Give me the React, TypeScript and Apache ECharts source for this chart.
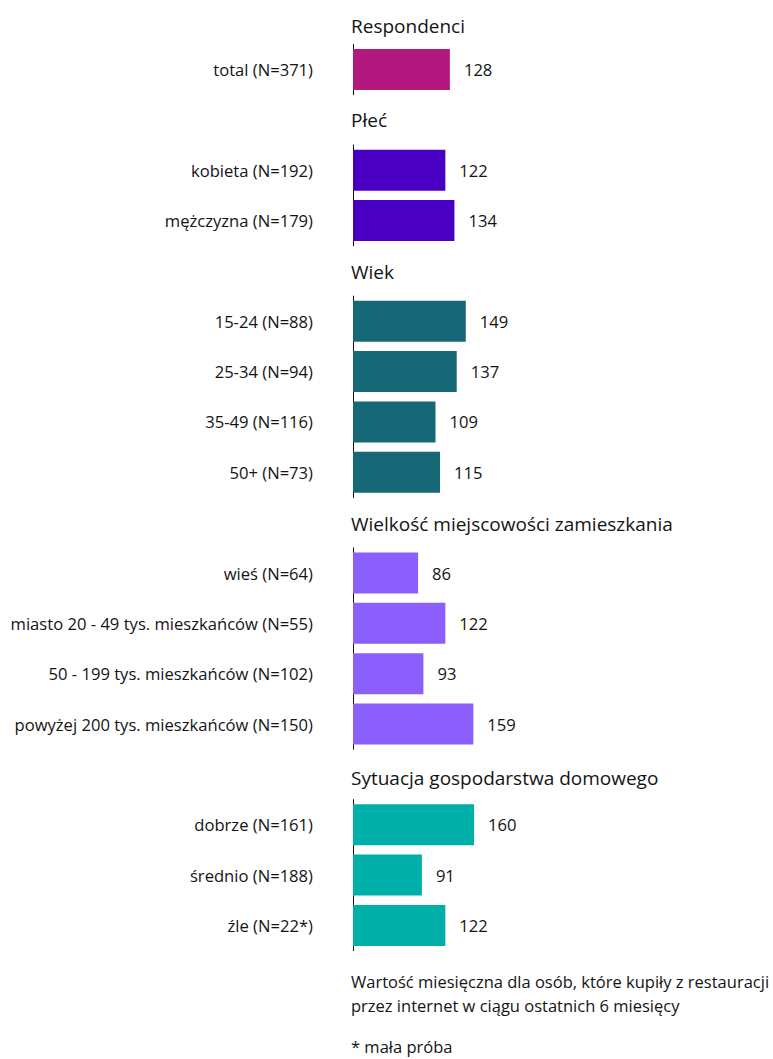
import React, { useEffect, useRef } from "react";
import * as echarts from "echarts";

const sectionTitles = [
  "Respondenci",
  "Płeć",
  "Wiek",
  "Wielkość miejscowości zamieszkania",
  "Sytuacja gospodarstwa domowego",
];

const totalLabels = ["total (N=371)"];
const totalValues = [128];

const genderLabels = ["kobieta (N=192)", "mężczyzna (N=179)"];
const genderValues = [122, 134];

const ageLabels = ["15-24 (N=88)", "25-34 (N=94)", "35-49 (N=116)", "50+ (N=73)"];
const ageValues = [149, 137, 109, 115];

const townLabels = [
  "wieś (N=64)",
  "miasto 20 - 49 tys. mieszkańców (N=55)",
  "50 - 199 tys. mieszkańców (N=102)",
  "powyżej 200 tys. mieszkańców (N=150)",
];
const townValues = [86, 122, 93, 159];

const situationLabels = ["dobrze (N=161)", "średnio (N=188)", "źle (N=22*)"];
const situationValues = [160, 91, 122];

const footnoteLines = [
  "Wartość miesięczna dla osób, które kupiły z restauracji",
  "przez internet w ciągu ostatnich 6 miesięcy",
  "* mała próba",
];

const FONT = "'Open Sans', sans-serif";
const TEXT = "#141414";

export default function App() {
  const ref = useRef<HTMLDivElement>(null);

  useEffect(() => {
    if (!ref.current) return;
    const chart = echarts.init(ref.current, undefined, { renderer: "svg" });

    const groups = [
      { labels: totalLabels, values: totalValues, color: "#B3187F", start: 0, titleY: 26 },
      { labels: genderLabels, values: genderValues, color: "#4A00C4", start: 2, titleY: 120 },
      { labels: ageLabels, values: ageValues, color: "#166877", start: 5, titleY: 272 },
      { labels: townLabels, values: townValues, color: "#8A5FFC", start: 10, titleY: 524 },
      { labels: situationLabels, values: situationValues, color: "#00AFA8", start: 15, titleY: 778 },
    ];

    const slot = 50.35;
    const firstCenter = 69.5;
    const left = 353;
    const width = 151.4;

    const grids: any[] = [];
    const xAxes: any[] = [];
    const yAxes: any[] = [];
    const series: any[] = [];
    const graphics: any[] = [];

    groups.forEach((g, i) => {
      const top = firstCenter + g.start * slot - slot / 2;
      grids.push({ left, top, width, height: g.labels.length * slot });
      xAxes.push({
        gridIndex: i,
        type: "value",
        min: 0,
        max: 200,
        show: false,
      });
      yAxes.push({
        gridIndex: i,
        type: "category",
        inverse: true,
        data: g.labels,
        axisLine: { show: true, lineStyle: { color: "#111", width: 1 } },
        axisTick: { show: false },
        axisLabel: {
          margin: 40,
          fontSize: 16.6,
          fontFamily: FONT,
          color: TEXT,
        },
      });
      series.push({
        type: "bar",
        xAxisIndex: i,
        yAxisIndex: i,
        data: g.values,
        barWidth: 41,
        itemStyle: { color: g.color },
        label: {
          show: true,
          position: "right",
          distance: 14,
          fontSize: 16.6,
          fontFamily: FONT,
          color: TEXT,
        },
      });
      graphics.push({
        type: "text",
        x: 351,
        y: g.titleY,
        style: {
          text: sectionTitles[i],
          fontSize: 19,
          fontFamily: FONT,
          fill: TEXT,
          verticalAlign: "middle",
        },
      });
    });

    const footY = [981, 1005, 1046];
    footnoteLines.forEach((t, i) => {
      graphics.push({
        type: "text",
        x: 351,
        y: footY[i],
        style: {
          text: t,
          fontSize: 16.5,
          fontFamily: FONT,
          fill: TEXT,
          verticalAlign: "middle",
        },
      });
    });

    chart.setOption({
      animation: false,
      backgroundColor: "#ffffff",
      grid: grids,
      xAxis: xAxes,
      yAxis: yAxes,
      series,
      graphic: graphics,
    });

    return () => chart.dispose();
  }, []);

  return (
    <div
      ref={ref}
      style={{ position: "absolute", left: 0, top: 0, width: 773, height: 1059 }}
    />
  );
}
